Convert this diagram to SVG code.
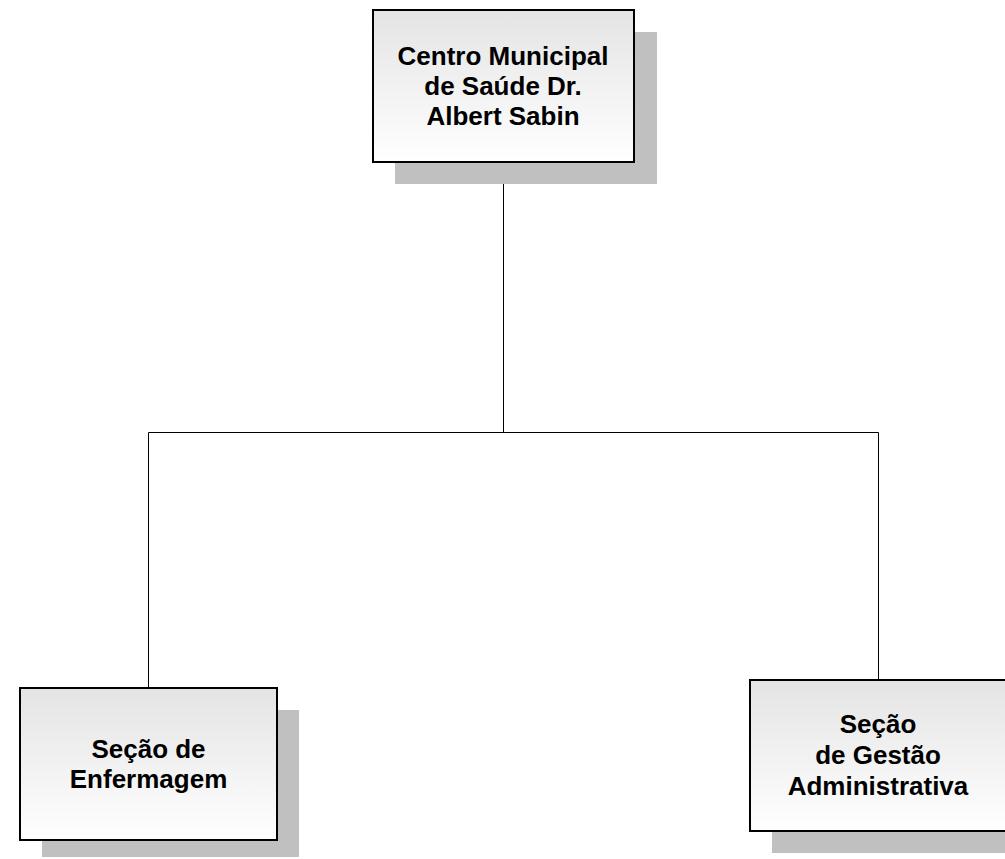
<svg xmlns="http://www.w3.org/2000/svg" width="1005" height="859" viewBox="0 0 1005 859">
<defs>
<linearGradient id="g" x1="0" y1="0" x2="0" y2="1">
<stop offset="0" stop-color="#e4e4e4"/>
<stop offset="1" stop-color="#ffffff"/>
</linearGradient>
</defs>
<style>
.sh{fill:#c0c0c0}
.bx{fill:url(#g);stroke:#000;stroke-width:2}
.t{font-family:"Liberation Sans",Arial,sans-serif;font-weight:bold;font-size:26px;text-anchor:middle;fill:#000}
.c{stroke:#000;stroke-width:1;fill:none}
</style>
<rect width="1005" height="859" fill="#fff"/>
<g id="connectors">
<path class="c" d="M503.5 162V432.5M148.5 432.5H878.5M148.5 432.5V688M878.5 432.5V680"/>
</g>
<g id="centro">
<rect class="sh" x="395" y="32" width="262" height="152"/>
<rect class="bx" x="373" y="10" width="261" height="152"/>
<text class="t" x="503" y="65">Centro Municipal</text>
<text class="t" x="503" y="95">de Saúde Dr.</text>
<text class="t" x="503" y="125">Albert Sabin</text>
</g>
<g id="enfermagem">
<rect class="sh" x="42" y="710" width="257" height="147"/>
<rect class="bx" x="20" y="688" width="257" height="152"/>
<text class="t" x="148.5" y="758">Seção de</text>
<text class="t" x="148.5" y="788">Enfermagem</text>
</g>
<g id="gestao">
<rect class="sh" x="772" y="702" width="257" height="151"/>
<rect class="bx" x="750" y="680" width="257" height="151"/>
<text class="t" x="878" y="733">Seção</text>
<text class="t" x="878" y="764">de Gestão</text>
<text class="t" x="878" y="795">Administrativa</text>
</g>
</svg>
